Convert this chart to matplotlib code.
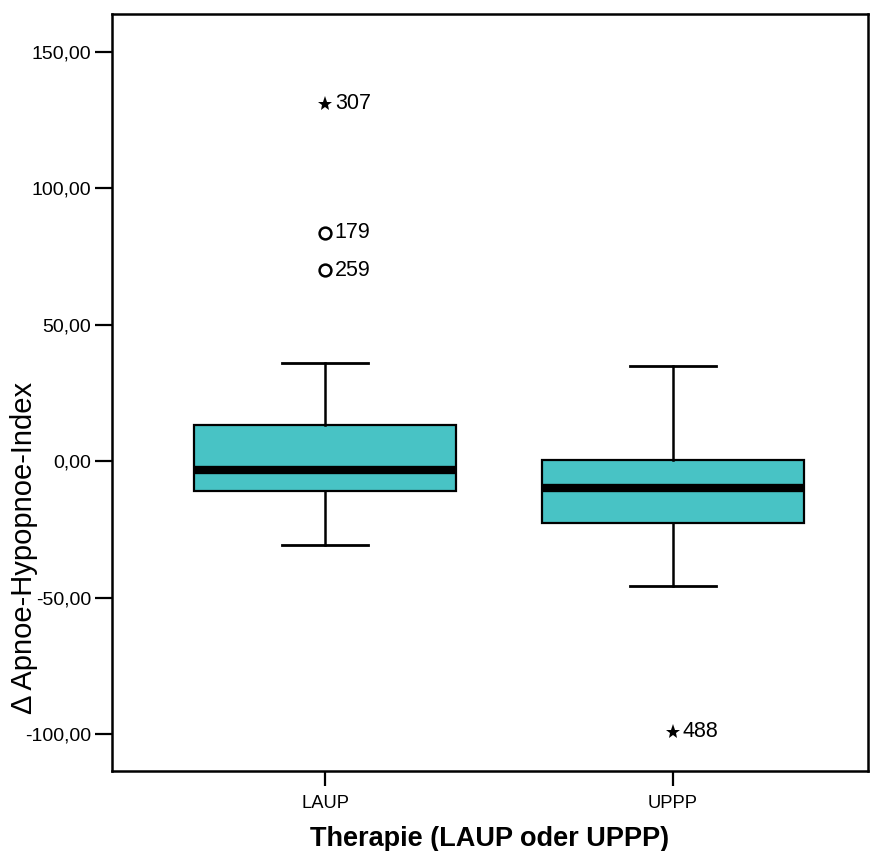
import matplotlib
matplotlib.use("Agg")
import matplotlib.pyplot as plt
import matplotlib.ticker as mticker

plt.rcParams["font.family"] = ["Liberation Sans", "DejaVu Sans"]

# ── Daten ──────────────────────────────────────────────────────────
groups   = ["LAUP", "UPPP"]
q1       = [-11.0, -22.7]
median   = [-3.3, -9.9]
q3       = [13.2, 0.4]
whis_lo  = [-30.7, -45.8]
whis_hi  = [35.9, 34.8]

# Ausreisser: (Gruppe, Wert, Fallnummer, Typ)
out_group = [0, 0, 0, 1]
out_value = [131.0, 83.8, 69.9, -99.2]
out_case  = ["307", "179", "259", "488"]
out_kind  = ["extreme", "mild", "mild", "extreme"]

yticks = [-100, -50, 0, 50, 100, 150]

BOX   = "#48C3C5"
BLACK = "#000000"


def comma_fmt(v, pos):
    return f"{v:.2f}".replace(".", ",")


fig = plt.figure(figsize=(8.73, 8.51), dpi=100)
ax = fig.add_axes([0.1283, 0.094, 0.8660, 0.8895])

pos = [1, 2]
stats = []
for i, g in enumerate(groups):
    stats.append(dict(label=g, q1=q1[i], med=median[i], q3=q3[i],
                      whislo=whis_lo[i], whishi=whis_hi[i], fliers=[]))

ax.bxp(stats, positions=pos, widths=0.753, patch_artist=True,
       showfliers=False,
       boxprops=dict(facecolor=BOX, edgecolor=BLACK, linewidth=1.6),
       medianprops=dict(color=BLACK, linewidth=6, solid_capstyle="butt"),
       whiskerprops=dict(color=BLACK, linewidth=1.8),
       capprops=dict(color=BLACK, linewidth=2.0),
       capwidths=0.247)

for g, v, c, k in zip(out_group, out_value, out_case, out_kind):
    x = pos[g]
    if k == "extreme":
        ax.plot(x, v, marker="*", markersize=11, color=BLACK,
                markeredgewidth=0, linestyle="none")
    else:
        ax.plot(x, v, marker="o", markersize=8.5, markerfacecolor="white",
                markeredgecolor=BLACK, markeredgewidth=1.8, linestyle="none")
    ax.annotate(c, (x, v), xytext=(7, 0), textcoords="offset points",
                fontsize=15.5, va="center", ha="left", color=BLACK)

ax.set_xlim(0.388, 2.560)
ax.set_ylim(-113.6, 163.9)
ax.set_yticks(yticks)
ax.yaxis.set_major_formatter(mticker.FuncFormatter(comma_fmt))
ax.set_xticks(pos)
ax.set_xticklabels(groups)

for sp in ax.spines.values():
    sp.set_linewidth(1.8)
    sp.set_color(BLACK)

ax.tick_params(axis="y", length=12, width=1.6, pad=3, labelsize=14)
ax.tick_params(axis="x", length=11, width=1.6, pad=6, labelsize=13.2)

ax.set_ylabel("\u0394 Apnoe-Hypopnoe-Index", fontsize=21, va="center")
ax.yaxis.set_label_coords(-0.116, 0.2946)
ax.set_xlabel("Therapie (LAUP oder UPPP)", fontsize=19.5,
              fontweight="bold", labelpad=10)

fig.savefig("out.png", dpi=100, facecolor="white")
